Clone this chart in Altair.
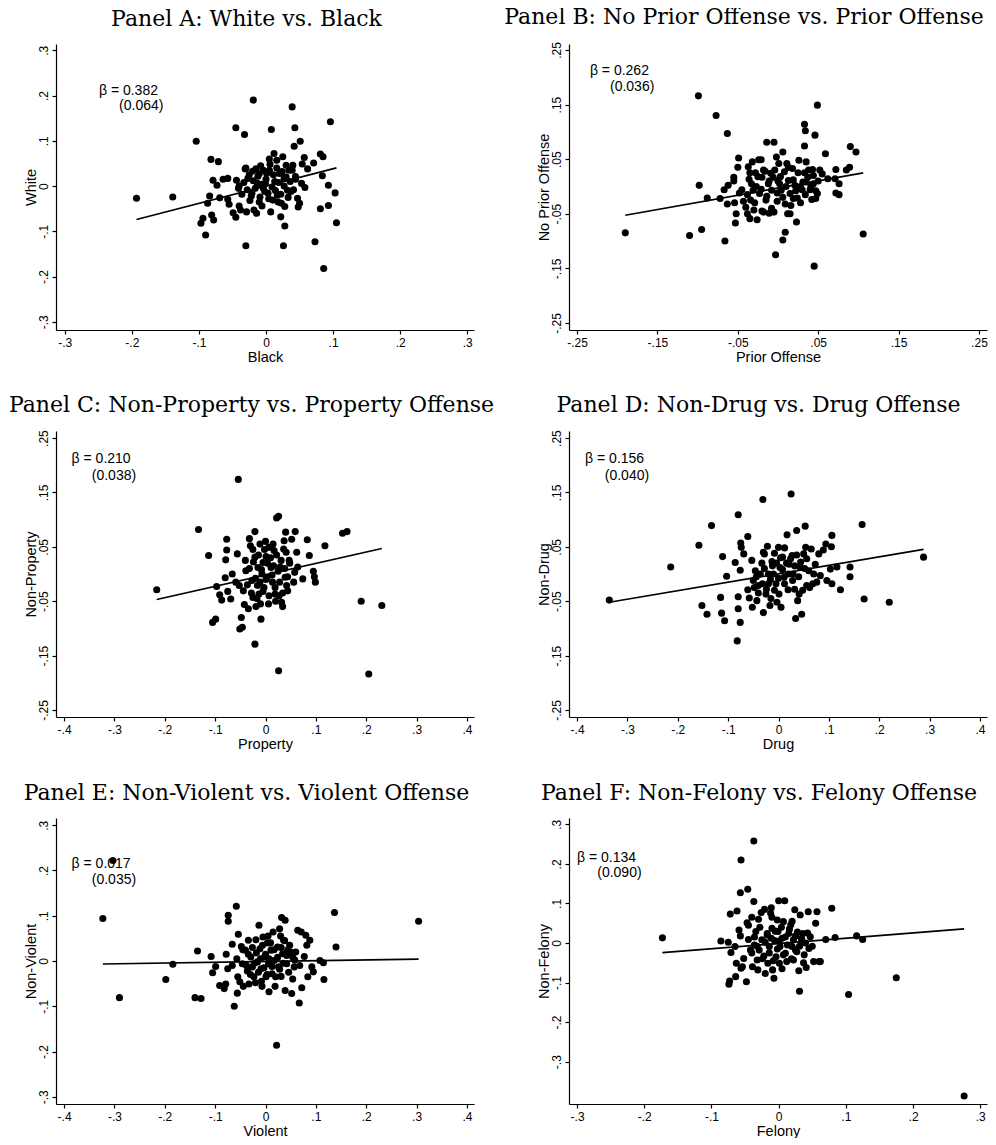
import altair as alt
import pandas as pd

# ---------------- data ----------------
# Panel A: White vs. Black
a_x = [-0.193, -0.139, -0.104, -0.090, -0.097, -0.094, -0.087, -0.084, -0.082, -0.079, -0.081, -0.078,
       -0.073, -0.071, -0.069, -0.064, -0.057, -0.057, -0.055, -0.049, -0.045, -0.045, -0.044, -0.041,
       -0.040, -0.038, -0.032, -0.031, -0.030, -0.029, -0.027, -0.024, -0.021, -0.019, -0.018, -0.015,
       -0.014, -0.013, -0.010, -0.009, -0.006, -0.004, -0.001, 0.001, 0.003, 0.005, 0.007, 0.008, 0.010,
       0.012, 0.013, 0.016, 0.017, 0.020, 0.022, 0.023, 0.025, 0.026, 0.027, 0.028, 0.030, 0.032, 0.034,
       0.037, 0.039, 0.040, 0.042, 0.043, 0.044, 0.047, 0.048, 0.050, 0.051, 0.053, 0.054, 0.057, 0.058,
       0.062, 0.071, 0.073, 0.081, 0.081, 0.084, 0.085, 0.086, 0.093, 0.093, 0.096, 0.103, 0.105,
       -0.040, -0.036, -0.033, -0.028, -0.025, -0.022, -0.019, -0.016, -0.012, -0.010, -0.007, -0.004,
       -0.002, 0.000, 0.004, 0.006, 0.009, 0.011, 0.014, 0.016, 0.019, 0.022, 0.024, 0.027, 0.030, 0.033,
       0.036, 0.039, 0.041, 0.044, -0.030, -0.020, 0.005, 0.018, 0.028, -0.008]
a_y = [-0.027, -0.024, 0.099, -0.108, -0.082, -0.071, -0.038, -0.022, 0.059, 0.013, -0.064, -0.075,
       0.002, 0.054, -0.026, 0.015, 0.017, -0.029, -0.040, -0.059, -0.069, 0.129, 0.013, -0.005,
       -0.044, -0.053, 0.114, 0.038, -0.132, -0.057, 0.017, -0.032, -0.016, 0.190, -0.053, 0.038,
       -0.060, 0.006, 0.028, -0.024, -0.044, -0.005, 0.006, 0.028, -0.016, 0.035, -0.057, 0.125, -0.031,
       0.072, 0.010, 0.057, -0.020, 0.028, -0.068, -0.038, 0.065, -0.132, 0.017, -0.088, 0.046, -0.009, 0.035,
       -0.012, 0.175, 0.046, 0.088, 0.129, 0.021, -0.027, -0.046, -0.038, 0.099, 0.006, 0.049, 0.063, -0.003,
       0.038, 0.051, -0.123, 0.071, -0.050, 0.023, 0.065, -0.182, 0.002, -0.043, 0.142, -0.015, -0.081,
       0.000, -0.018, 0.008, -0.008, 0.025, -0.022, 0.012, -0.005, 0.022, -0.035, 0.004, 0.035,
       -0.012, 0.015, -0.028, 0.048, -0.002, 0.025, -0.010, 0.040, 0.008, -0.018, 0.032, 0.000, 0.020, -0.025,
       0.010, 0.035, -0.008, 0.015, 0.040, 0.033, 0.060, -0.035, -0.045, 0.045]

# Panel B: No Prior Offense vs. Prior Offense
b_x = [-0.190, -0.110, -0.095, -0.099, -0.098, -0.088, -0.077, -0.072, -0.067, -0.066, -0.063, -0.063,
       -0.062, -0.055, -0.055, -0.054, -0.052, -0.053, -0.050, -0.049, -0.048, -0.045, -0.043, -0.040,
       -0.038, -0.037, -0.036, -0.035, -0.034, -0.032, -0.031, -0.030, -0.028, -0.027, -0.026, -0.024,
       -0.023, -0.021, -0.020, -0.018, -0.016, -0.014, -0.014, -0.012, -0.011, -0.009, -0.008, -0.006,
       -0.005, -0.005, -0.003, -0.002, -0.001, 0.001, 0.002, 0.004, 0.006, 0.006, 0.008, 0.009, 0.009,
       0.011, 0.012, 0.013, 0.015, 0.018, 0.019, 0.021, 0.023, 0.024, 0.026, 0.028, 0.030, 0.033, 0.033,
       0.033, 0.034, 0.035, 0.037, 0.040, 0.042, 0.043, 0.044, 0.045, 0.046, 0.047, 0.049, 0.049, 0.052,
       0.055, 0.059, 0.062, 0.071, 0.072, 0.072, 0.076, 0.076, 0.085, 0.089, 0.090, 0.097, 0.106,
       -0.038, -0.033, -0.029, -0.025, -0.021, -0.018, -0.015, -0.011, -0.008, -0.004, -0.001, 0.003,
       0.006, 0.010, 0.013, 0.016, 0.019, 0.022, 0.025, 0.028, 0.031, 0.034, 0.038, 0.041, 0.044, 0.047,
       -0.035, -0.020, 0.000, 0.015, 0.035, 0.050]
b_y = [-0.085, -0.090, -0.079, 0.166, 0.002, -0.021, 0.130, -0.022, -0.006, -0.100, 0.097, -0.032,
       0.002, 0.010, 0.017, -0.030, -0.050, -0.067, 0.035, 0.052, -0.012, -0.006, -0.027, -0.038,
       -0.050, 0.036, 0.013, -0.059, -0.025, 0.045, -0.007, -0.043, 0.025, 0.000, -0.061, 0.049,
       -0.013, 0.049, 0.017, -0.047, 0.028, -0.018, 0.081, 0.005, -0.049, 0.024, -0.007, 0.017,
       0.081, -0.047, -0.125, 0.054, -0.027, 0.042, 0.005, -0.007, 0.063, -0.098, 0.027, -0.032, -0.084,
       0.042, -0.050, 0.011, -0.013, 0.033, -0.022, 0.002, -0.065, -0.021, 0.048, -0.001, -0.006, 0.025, 0.114,
       0.074, 0.102, 0.008, 0.017, -0.006, -0.024, 0.031, 0.005, -0.146, 0.094, -0.022, 0.149, -0.013, 0.030,
       0.023, 0.060, 0.014, 0.014, 0.031, -0.012, 0.005, -0.015, 0.030, 0.035, 0.073, 0.063, -0.087,
       -0.015, 0.005, -0.030, 0.018, -0.005, 0.030, -0.025, 0.010, -0.040, 0.030, -0.012, 0.018,
       -0.020, 0.000, 0.035, -0.035, 0.012, -0.008, 0.025, -0.030, 0.008, -0.015, 0.030, 0.000, 0.020, -0.008,
       0.025, -0.045, 0.010, -0.050, 0.045, 0.010]

# Panel C: Non-Property vs. Property Offense
c_x = [-0.216, -0.133, -0.113, -0.105, -0.099, -0.097, -0.091, -0.087, -0.080, -0.079, -0.077, -0.077,
       -0.075, -0.069, -0.066, -0.059, -0.056, -0.054, -0.052, -0.051, -0.048, -0.046, -0.044, -0.042,
       -0.040, -0.039, -0.034, -0.032, -0.030, -0.027, -0.025, -0.021, -0.021, -0.021, -0.019, -0.016,
       -0.015, -0.013, -0.011, -0.009, -0.007, -0.005, -0.003, 0.001, 0.003, 0.006, 0.007, 0.011, 0.014,
       0.017, 0.019, 0.022, 0.026, 0.026, 0.027, 0.029, 0.032, 0.034, 0.036, 0.037, 0.039, 0.040, 0.042,
       0.044, 0.047, 0.052, 0.056, 0.058, 0.059, 0.062, 0.064, 0.074, 0.083, 0.087, 0.095, 0.097, 0.099,
       0.118, 0.153, 0.162, 0.190, 0.205, 0.231,
       -0.036, -0.032, -0.028, -0.024, -0.020, -0.017, -0.014, -0.011, -0.008, -0.005, -0.002, 0.001,
       0.004, 0.007, 0.010, 0.013, 0.016, 0.019, 0.022, 0.025, 0.028, 0.031, 0.034, 0.038, 0.041, 0.044,
       0.048, -0.025, 0.000, 0.015, -0.010, 0.020]
c_y = [-0.029, 0.082, 0.034, -0.089, -0.083, -0.023, -0.038, -0.048, -0.007, 0.026, 0.044, 0.064,
       -0.032, -0.046, 0.000, -0.015, 0.037, 0.174, -0.021, -0.101, -0.080, -0.098, -0.031, -0.056,
       0.025, 0.006, -0.064, 0.065, 0.052, -0.012, -0.043, 0.078, -0.129, 0.031, -0.060, -0.021,
       0.012, -0.037, 0.055, -0.083, 0.000, 0.021, -0.025, 0.032, -0.006, -0.055, 0.049, 0.012, -0.015,
       0.043, -0.037, 0.103, 0.106, -0.178, -0.040, 0.013, -0.052, -0.060, 0.046, 0.061, -0.006, 0.077, -0.021,
       -0.031, 0.025, 0.064, -0.015, 0.003, 0.078, 0.040, 0.013, -0.009, 0.063, 0.034, 0.005, -0.005, -0.015,
       0.052, 0.075, 0.078, -0.050, -0.184, -0.058,
       -0.020, 0.010, -0.035, 0.022, -0.008, -0.045, 0.035, -0.015, 0.008, -0.032, 0.045, -0.010,
       0.020, -0.040, 0.030, -0.002, 0.015, -0.025, 0.035, 0.005, -0.015, 0.025, -0.035, 0.010, 0.040, -0.005,
       0.020, 0.045, 0.060, 0.055, -0.055, -0.050]

# Panel D: Non-Drug vs. Drug Offense
d_x = [-0.336, -0.214, -0.158, -0.152, -0.142, -0.133, -0.115, -0.113, -0.111, -0.107, -0.103, -0.086,
       -0.082, -0.080, -0.080, -0.080, -0.076, -0.076, -0.075, -0.074, -0.069, -0.061, -0.061, -0.058,
       -0.053, -0.052, -0.050, -0.046, -0.043, -0.040, -0.033, -0.031, -0.030, -0.028, -0.025, -0.022,
       -0.020, -0.017, -0.013, -0.010, -0.008, -0.005, -0.003, 0.000, 0.001, 0.003, 0.005, 0.008, 0.011,
       0.017, 0.019, 0.021, 0.025, 0.027, 0.029, 0.032, 0.034, 0.036, 0.038, 0.041, 0.043, 0.046, 0.050,
       0.053, 0.054, 0.056, 0.060, 0.065, 0.068, 0.073, 0.076, 0.080, 0.083, 0.089, 0.094, 0.096, 0.103,
       0.105, 0.106, 0.106, 0.116, 0.123, 0.142, 0.142, 0.166, 0.170, 0.220, 0.288,
       -0.048, -0.044, -0.040, -0.036, -0.032, -0.028, -0.024, -0.020, -0.016, -0.012, -0.008, -0.004,
       0.000, 0.004, 0.008, 0.012, 0.016, 0.020, 0.024, 0.028, 0.032, 0.036, 0.040, 0.044, 0.048, 0.052,
       0.056, 0.062, 0.070, -0.030, 0.012, -0.015]
d_y = [-0.048, 0.013, 0.053, -0.058, -0.074, 0.089, -0.043, -0.072, 0.032, -0.086, -0.004, 0.021,
       -0.123, 0.109, -0.042, -0.064, -0.089, 0.007, 0.057, 0.049, 0.037, 0.069, -0.029, -0.044,
       0.025, -0.061, -0.012, 0.006, -0.049, -0.021, 0.020, 0.137, -0.071, 0.037, -0.037, 0.051,
       -0.018, -0.058, 0.023, 0.000, 0.038, -0.018, -0.052, 0.049, -0.037, 0.012, -0.061, 0.031, -0.006,
       0.072, -0.029, 0.018, 0.147, 0.034, 0.000, -0.028, -0.082, 0.080, -0.049, -0.037, 0.012, -0.074, 0.037,
       0.088, 0.049, -0.021, 0.006, 0.046, -0.018, 0.018, -0.015, 0.037, -0.003, 0.044, 0.055, -0.012, 0.009,
       0.050, 0.071, -0.018, 0.013, -0.029, 0.013, -0.005, 0.091, -0.046, -0.052, 0.031,
       -0.025, -0.005, -0.035, 0.000, -0.018, 0.010, -0.028, 0.000, -0.010, 0.015, -0.030, 0.020,
       -0.008, 0.030, 0.008, -0.018, 0.020, 0.000, 0.028, -0.012, 0.015, 0.035, -0.005, 0.022, -0.030, 0.010,
       0.028, -0.025, 0.000, 0.040, 0.048, -0.045]

# Panel E: Non-Violent vs. Violent Offense
e_x = [-0.323, -0.303, -0.290, -0.198, -0.184, -0.140, -0.135, -0.128, -0.108, -0.105, -0.099, -0.091,
       -0.082, -0.079, -0.078, -0.075, -0.074, -0.074, -0.066, -0.066, -0.062, -0.058, -0.057, -0.056,
       -0.055, -0.054, -0.051, -0.048, -0.046, -0.044, -0.040, -0.036, -0.034, -0.033, -0.029, -0.026,
       -0.023, -0.019, -0.016, -0.013, -0.011, -0.009, -0.007, -0.005, -0.002, 0.001, 0.004, 0.006, 0.007,
       0.011, 0.013, 0.015, 0.017, 0.019, 0.022, 0.024, 0.026, 0.028, 0.031, 0.032, 0.034, 0.036, 0.039,
       0.039, 0.042, 0.044, 0.048, 0.052, 0.054, 0.057, 0.060, 0.064, 0.067, 0.068, 0.071, 0.072, 0.077,
       0.080, 0.082, 0.084, 0.088, 0.092, 0.095, 0.108, 0.115, 0.116, 0.137, 0.140, 0.304,
       -0.038, -0.034, -0.030, -0.026, -0.022, -0.018, -0.014, -0.010, -0.006, -0.003, 0.000, 0.003,
       0.007, 0.010, 0.013, 0.017, 0.020, 0.024, 0.028, 0.031, 0.035, 0.038, 0.042, 0.046, 0.050, 0.054,
       0.058, -0.045, -0.020, 0.005, 0.030, -0.008]
e_y = [0.094, 0.222, -0.081, -0.041, -0.007, -0.081, 0.022, -0.083, 0.010, -0.026, -0.012, -0.054,
       -0.061, -0.051, 0.015, -0.017, 0.101, 0.088, 0.037, -0.010, -0.100, 0.121, 0.005, -0.071,
       -0.035, 0.059, -0.046, 0.032, -0.006, -0.056, 0.024, -0.022, 0.046, -0.051, 0.009, -0.013,
       -0.035, 0.047, -0.002, 0.079, 0.027, -0.017, -0.056, 0.053, 0.009, -0.035, 0.040, -0.006, -0.068,
       0.024, -0.028, 0.064, 0.001, -0.056, -0.186, 0.031, -0.013, 0.071, -0.034, 0.096, 0.016, 0.046, 0.090,
       -0.065, -0.006, 0.024, 0.035, -0.072, 0.009, -0.013, 0.020, 0.068, -0.093, -0.010, 0.064, -0.059, 0.010,
       0.057, 0.035, -0.035, 0.046, -0.013, -0.024, 0.001, -0.004, -0.041, 0.107, 0.031, 0.088,
       -0.010, 0.015, -0.030, 0.030, -0.005, 0.018, -0.025, 0.005, 0.035, -0.015, 0.015, -0.030,
       0.005, 0.040, -0.012, 0.025, -0.035, 0.008, -0.018, 0.030, -0.005, 0.045, 0.012, -0.025, 0.020, -0.040,
       0.002, 0.025, -0.048, 0.055, 0.055, -0.045]

# Panel F: Non-Felony vs. Felony Offense
f_x = [-0.173, -0.086, -0.075, -0.074, -0.073, -0.072, -0.071, -0.065, -0.064, -0.063, -0.062, -0.059,
       -0.057, -0.057, -0.056, -0.056, -0.054, -0.052, -0.048, -0.047, -0.046, -0.045, -0.042, -0.040,
       -0.039, -0.037, -0.037, -0.036, -0.034, -0.032, -0.031, -0.029, -0.026, -0.025, -0.022, -0.021,
       -0.020, -0.017, -0.016, -0.014, -0.012, -0.011, -0.010, -0.009, -0.007, -0.006, -0.004, -0.002,
       -0.001, 0.000, 0.001, 0.002, 0.005, 0.007, 0.009, 0.010, 0.012, 0.015, 0.018, 0.020, 0.022, 0.024,
       0.025, 0.027, 0.030, 0.031, 0.032, 0.034, 0.036, 0.038, 0.041, 0.044, 0.045, 0.047, 0.050, 0.052,
       0.055, 0.057, 0.060, 0.062, 0.070, 0.079, 0.084, 0.104, 0.116, 0.125, 0.175, 0.276,
       -0.040, -0.036, -0.032, -0.028, -0.024, -0.020, -0.017, -0.014, -0.011, -0.008, -0.005, -0.002,
       0.001, 0.004, 0.007, 0.010, 0.013, 0.016, 0.019, 0.022, 0.025, 0.028, 0.031, 0.034, 0.037, 0.040,
       0.043, -0.030, -0.010, 0.020, 0.005, -0.045]
f_y = [0.013, 0.005, 0.002, -0.104, -0.096, 0.073, -0.024, -0.009, -0.085, -0.051, 0.081, 0.033,
       0.018, 0.127, 0.210, -0.064, -0.060, -0.039, -0.098, 0.051, 0.136, 0.009, -0.018, 0.065,
       -0.060, 0.258, 0.105, -0.005, 0.029, -0.043, -0.068, -0.018, 0.077, 0.008, -0.033, 0.085,
       -0.077, 0.024, -0.051, -0.009, 0.075, 0.089, 0.037, -0.068, -0.089, 0.006, -0.035, 0.058,
       0.029, 0.107, -0.051, -0.009, 0.012, 0.054, 0.107, -0.026, -0.047, 0.024, 0.046, -0.009, -0.043, 0.084,
       0.018, -0.022, -0.070, -0.122, 0.071, 0.003, 0.024, -0.030, -0.062, 0.079, -0.014, 0.016, -0.008, -0.047,
       0.050, 0.079, -0.047, -0.047, 0.009, 0.088, 0.014, -0.130, 0.018, 0.009, -0.088, -0.387,
       -0.025, 0.015, -0.008, 0.040, -0.040, 0.002, 0.020, -0.025, 0.012, -0.045, 0.030, -0.015,
       0.005, 0.040, -0.030, 0.015, -0.005, 0.035, -0.040, 0.008, -0.018, 0.028, -0.008, 0.012, -0.050, 0.000,
       0.025, 0.060, 0.065, 0.055, -0.065, 0.045]

# titles, axis titles, fitted slopes (beta), std errors, intercepts
titles = ["Panel A: White vs. Black",
          "Panel B: No Prior Offense vs. Prior Offense",
          "Panel C: Non-Property vs. Property Offense",
          "Panel D: Non-Drug vs. Drug Offense",
          "Panel E: Non-Violent vs. Violent Offense",
          "Panel F: Non-Felony vs. Felony Offense"]
x_titles = ["Black", "Prior Offense", "Property", "Drug", "Violent", "Felony"]
y_titles = ["White", "No Prior Offense", "Non-Property", "Non-Drug", "Non-Violent", "Non-Felony"]
betas = [0.382, 0.262, 0.210, 0.156, 0.017, 0.134]
ses = [0.064, 0.036, 0.038, 0.040, 0.035, 0.090]
intercepts = [0.000, -0.003, -0.0016, 0.0004, -0.0011, -0.0013]

# tick values and labels
ticks_3 = [-0.3, -0.2, -0.1, 0, 0.1, 0.2, 0.3]
labels_3 = ["-.3", "-.2", "-.1", "0", ".1", ".2", ".3"]
ticks_25 = [-0.25, -0.15, -0.05, 0.05, 0.15, 0.25]
labels_25 = ["-.25", "-.15", "-.05", ".05", ".15", ".25"]
ticks_4 = [-0.4, -0.3, -0.2, -0.1, 0, 0.1, 0.2, 0.3, 0.4]
labels_4 = ["-.4", "-.3", "-.2", "-.1", "0", ".1", ".2", ".3", ".4"]

# ---------------- layout / style settings ----------------
panel_layout = [
    dict(xdom=[-0.313, 0.31], ydom=[-0.318, 0.314], xt=(ticks_3, labels_3), yt=(ticks_3, labels_3),
         ann=((-0.249, 0.211), (-0.219, 0.178)), tdx=-18.5),
    dict(xdom=[-0.26, 0.26], ydom=[-0.263, 0.261], xt=(ticks_25, labels_25), yt=(ticks_25, labels_25),
         ann=((-0.234, 0.211), (-0.209, 0.182)), tdx=-34),
    dict(xdom=[-0.416, 0.414], ydom=[-0.263, 0.263], xt=(ticks_4, labels_4), yt=(ticks_25, labels_25),
         ann=((-0.385, 0.211), (-0.345, 0.181)), tdx=-13.5),
    dict(xdom=[-0.416, 0.414], ydom=[-0.263, 0.263], xt=(ticks_4, labels_4), yt=(ticks_25, labels_25),
         ann=((-0.384, 0.211), (-0.345, 0.181)), tdx=-19.5),
    dict(xdom=[-0.416, 0.414], ydom=[-0.316, 0.316], xt=(ticks_4, labels_4), yt=(ticks_3, labels_3),
         ann=((-0.385, 0.214), (-0.345, 0.180)), tdx=-18.5),
    dict(xdom=[-0.312, 0.31], ydom=[-0.407, 0.316], xt=(ticks_3, labels_3), yt=(ticks_3, labels_3),
         ann=((-0.300, 0.215), (-0.270, 0.176)), tdx=-19),
]
xs_all = [a_x, b_x, c_x, d_x, e_x, f_x]
ys_all = [a_y, b_y, c_y, d_y, e_y, f_y]

W, H = 418, 286
SANS = "Liberation Sans"
SERIF = "DejaVu Serif"


def label_expr(vals, labs):
    s = ""
    for v, l in zip(vals, labs):
        s += f"abs(datum.value - ({v})) < 1e-9 ? '{l}' : "
    return s + "''"


def make_panel(i):
    lay = panel_layout[i]
    xs, ys = xs_all[i], ys_all[i]
    pts = pd.DataFrame({"x": xs, "y": ys})
    x0, x1 = min(xs), max(xs)
    fit = pd.DataFrame({"x": [x0, x1],
                        "y": [intercepts[i] + betas[i] * x0, intercepts[i] + betas[i] * x1]})
    ann = pd.DataFrame({"x": [lay["ann"][0][0], lay["ann"][1][0]],
                        "y": [lay["ann"][0][1], lay["ann"][1][1]],
                        "t": [f"\u03b2 = {betas[i]:.3f}", f"({ses[i]:.3f})"]})

    xaxis = alt.Axis(values=lay["xt"][0], labelExpr=label_expr(*lay["xt"]), title=x_titles[i],
                     grid=False, domainColor="black", domainWidth=1.2, tickColor="black", tickWidth=1.2,
                     tickSize=4, labelColor="black", labelFont=SANS, labelFontSize=12, labelPadding=3,
                     titleFont=SANS, titleFontSize=14.5, titleFontWeight="normal", titleColor="black",
                     titlePadding=2, labelFlush=False, labelOverlap=False)
    yaxis = alt.Axis(values=lay["yt"][0], labelExpr=label_expr(*lay["yt"]), title=y_titles[i],
                     grid=False, domainColor="black", domainWidth=1.2, tickColor="black", tickWidth=1.2,
                     tickSize=4, labelColor="black", labelFont=SANS, labelFontSize=12, labelPadding=2,
                     labelAngle=270, labelAlign="center", labelBaseline="bottom",
                     titleFont=SANS, titleFontSize=14.5, titleFontWeight="normal", titleColor="black",
                     titlePadding=-1, labelFlush=False, labelOverlap=False)
    xsc = alt.Scale(domain=lay["xdom"], nice=False, zero=False)
    ysc = alt.Scale(domain=lay["ydom"], nice=False, zero=False)

    enc = dict(x=alt.X("x:Q", scale=xsc, axis=xaxis), y=alt.Y("y:Q", scale=ysc, axis=yaxis))

    p = alt.Chart(pts).mark_circle(size=50, color="black", opacity=1).encode(**enc)
    l = alt.Chart(fit).mark_line(color="black", strokeWidth=1.7).encode(**enc)
    t = alt.Chart(ann).mark_text(align="left", baseline="middle", font=SANS, fontSize=14,
                                 color="black").encode(text="t:N", **enc)
    return alt.layer(p, l, t).properties(
        width=W, height=H,
        title=alt.TitleParams(titles[i], font=SERIF, fontSize=22, fontWeight="normal",
                              color="black", anchor="middle", frame="group", dx=lay["tdx"],
                              offset=13))


panels = [make_panel(i) for i in range(6)]
chart = alt.concat(*panels, columns=2, spacing=alt.RowColnumber(row=101, column=95),
                   bounds="flush").properties(
    padding={"left": 0, "top": -3, "right": 0, "bottom": 0}, background="white"
).configure_view(stroke=None)

chart.save("out.html", embed_options={"renderer": "svg", "actions": False})
